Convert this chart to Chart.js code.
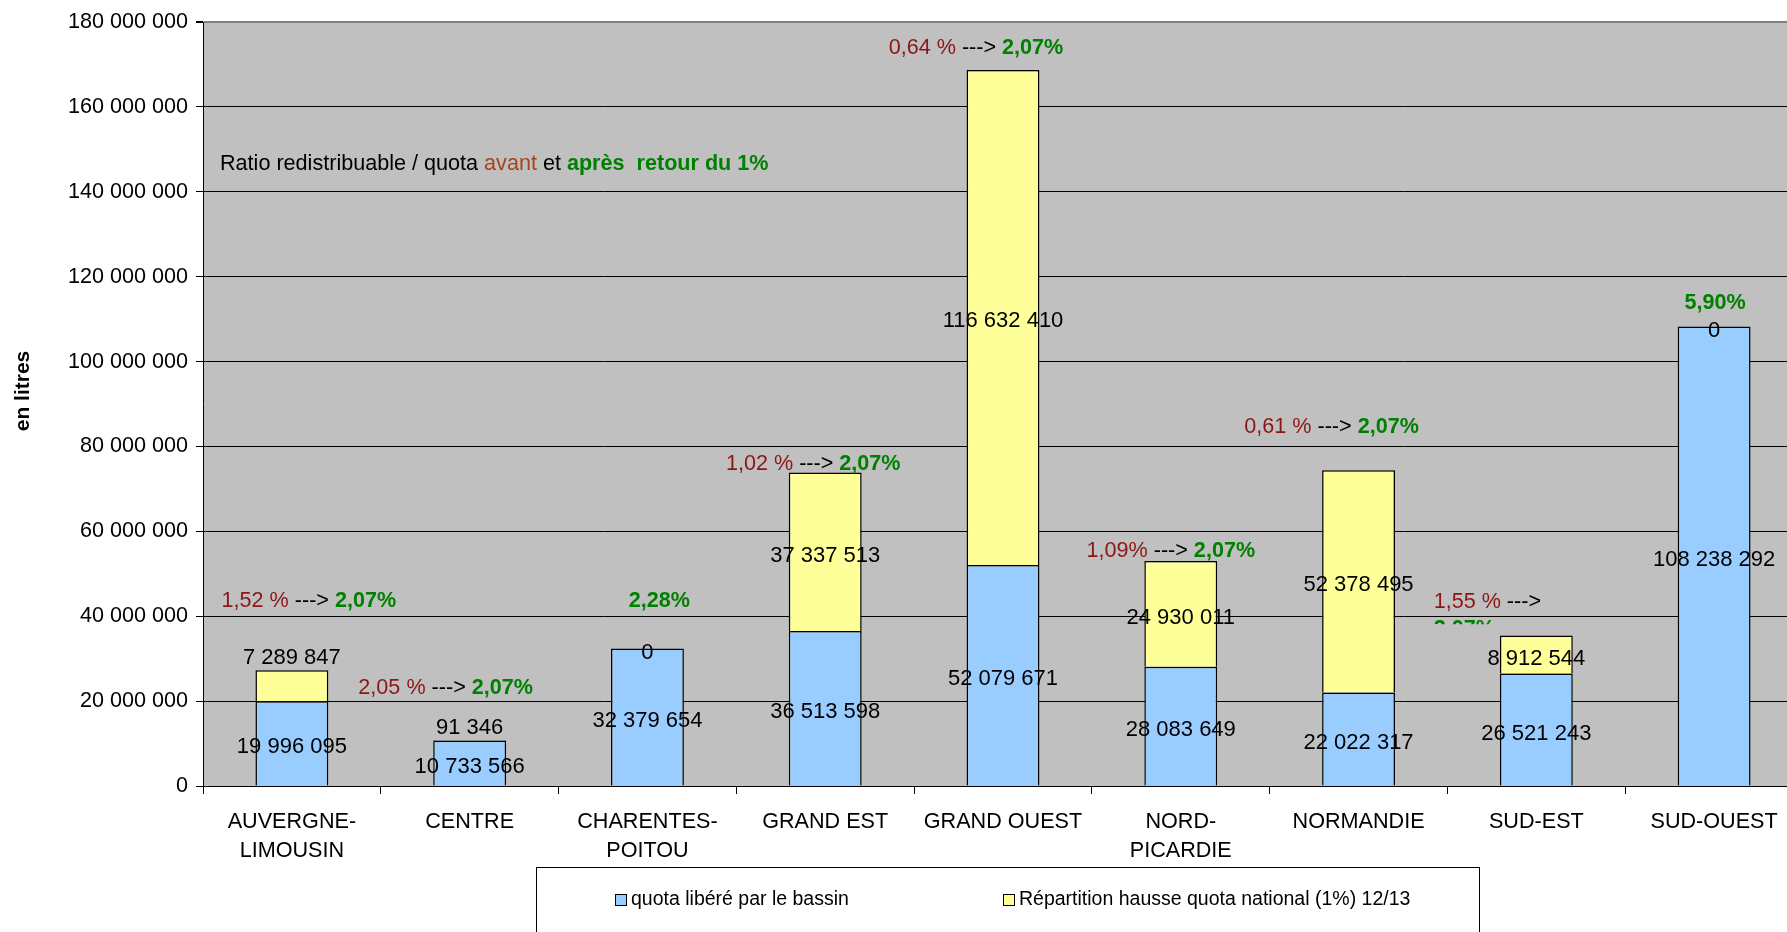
<!DOCTYPE html>
<html lang="fr">
<head>
<meta charset="utf-8">
<title>Quota libéré par bassin</title>
<script src="https://cdn.jsdelivr.net/npm/chart.js@4.4.1/dist/chart.umd.min.js"></script>
<style>
    html, body { margin: 0; padding: 0; background: #fff; overflow: hidden; }
    #wrap { width: 1803px; height: 932px; }
    canvas { display: block; }
</style>
</head>
<body>
<div id="wrap"><canvas id="quotaChart" width="1803" height="932"></canvas></div>
<script>
// categories and series
const regions = [['AUVERGNE-', 'LIMOUSIN'], 'CENTRE', ['CHARENTES-', 'POITOU'], 'GRAND EST', 'GRAND OUEST', ['NORD-', 'PICARDIE'], 'NORMANDIE', 'SUD-EST', 'SUD-OUEST'];
const quotaLibere = [19996095, 10733566, 32379654, 36513598, 52079671, 28083649, 22022317, 26521243, 108238292];
const hausseNationale = [7289847, 91346, 0, 37337513, 116632410, 24930011, 52378495, 8912544, 0];

// ratio redistribuable / quota, avant et après retour du 1%
const ratioAvant = ['1,52 %', '2,05 %', null, '1,02 %', '0,64 %', '1,09%', '0,61 %', '1,55 %', null];
const ratioApres = ['2,07%', '2,07%', '2,28%', '2,07%', '2,07%', '2,07%', '2,07%', '2,07%', '5,90%'];

const seriesNames = ['quota libéré par le bassin', 'Répartition hausse quota national (1%) 12/13'];

// where the ratio text boxes sit (offset from category centre, height in litres)
const ratioBoxes = [
    { dx: 17, at: 43.9e6 },
    { dx: -24, at: 23.3e6 },
    { dx: 12, at: 43.9e6 },
    { dx: -12, at: 76.1e6 },
    { dx: -27, at: 174.2e6 },
    { dx: -10, at: 55.6e6 },
    { dx: -27, at: 84.9e6 },
    { dx: -49, at: 43.5e6, wrapped: true },
    { dx: 1, at: 114.1e6 }
];

const FONT = '"Liberation Sans", Arial, sans-serif';
const RED = '#8C1616';
const GREEN = '#008000';
const BLUE = '#99CCFF';
const YELLOW = '#FFFF99';

function fmt(v) {
    return String(v).replace(/\B(?=(\d{3})+(?!\d))/g, ' ');
}

function drawParts(ctx, parts, x, y, align) {
    let w = 0;
    parts.forEach(p => { ctx.font = p.font; w += ctx.measureText(p.text).width; });
    let cx = align === 'left' ? x : x - w / 2;
    parts.forEach(p => {
        ctx.font = p.font;
        ctx.fillStyle = p.color;
        ctx.fillText(p.text, cx, y);
        cx += ctx.measureText(p.text).width;
    });
    return align === 'left' ? x : x - w / 2;
}

const plotBackground = {
    id: 'plotBackground',
    beforeDraw(chart) {
        const a = chart.chartArea;
        chart.ctx.save();
        chart.ctx.fillStyle = '#C0C0C0';
        chart.ctx.fillRect(a.left, a.top, a.right - a.left, a.bottom - a.top);
        chart.ctx.restore();
    }
};

const barValues = {
    id: 'barValues',
    afterDatasetsDraw(chart) {
        const ctx = chart.ctx;
        ctx.save();
        ctx.font = '22px ' + FONT;
        ctx.fillStyle = '#000';
        ctx.textAlign = 'center';
        ctx.textBaseline = 'middle';
        chart.data.datasets.forEach((ds, di) => {
            chart.getDatasetMeta(di).data.forEach((bar, i) => {
                const v = ds.data[i];
                const top = Math.min(bar.y, bar.base);
                const bottom = Math.max(bar.y, bar.base);
                let y = (top + bottom) / 2 + 4;
                // small top segments get their label lifted above the bar
                if (di === 1 && v > 0 && bottom - top < 35) y = top - 12;
                ctx.fillText(fmt(v), bar.x, y);
            });
        });
        ctx.restore();
    }
};

const ratioNotes = {
    id: 'ratioNotes',
    afterDraw(chart) {
        const ctx = chart.ctx;
        const xs = chart.scales.x, ys = chart.scales.y;
        const normal = '21.6px ' + FONT;
        const bold = 'bold 21.6px ' + FONT;
        ctx.save();
        ctx.textAlign = 'left';
        ctx.textBaseline = 'middle';

        // heading text box
        const a = chart.chartArea;
        drawParts(ctx, [
            { text: 'Ratio redistribuable / quota ', font: normal, color: '#000' },
            { text: 'avant', font: normal, color: '#A8441C' },
            { text: ' et ', font: normal, color: '#000' },
            { text: 'après  retour du 1%', font: bold, color: GREEN }
        ], a.left + 17, a.top + 142, 'left');

        // axis title
        ctx.save();
        ctx.translate(23, (a.top + a.bottom) / 2 - 13);
        ctx.rotate(-Math.PI / 2);
        ctx.textAlign = 'center';
        ctx.font = 'bold 21px ' + FONT;
        ctx.fillStyle = '#000';
        ctx.fillText('en litres', 0, 0);
        ctx.restore();

        ratioBoxes.forEach((box, i) => {
            const x = xs.getPixelForValue(i) + box.dx;
            const y = ys.getPixelForValue(box.at) + 1;
            if (box.wrapped) {
                const left = drawParts(ctx, [
                    { text: ratioAvant[i] + ' ', font: normal, color: RED },
                    { text: '--->', font: normal, color: '#000' }
                ], x, y, 'center');
                // second line is cut by the text box edge
                ctx.save();
                ctx.beginPath();
                ctx.rect(left - 5, y, 200, 22);
                ctx.clip();
                drawParts(ctx, [{ text: ratioApres[i], font: bold, color: GREEN }], left, y + 27, 'left');
                ctx.restore();
                return;
            }
            const parts = [];
            if (ratioAvant[i]) {
                parts.push({ text: ratioAvant[i] + ' ', font: normal, color: RED });
                parts.push({ text: '---> ', font: normal, color: '#000' });
            }
            parts.push({ text: ratioApres[i], font: bold, color: GREEN });
            drawParts(ctx, parts, x, y, 'center');
        });
        ctx.restore();
    }
};

const boxedLegend = {
    id: 'boxedLegend',
    afterDraw(chart) {
        const ctx = chart.ctx;
        const top = chart.chartArea.bottom + 81;
        ctx.save();
        ctx.strokeStyle = '#000';
        ctx.lineWidth = 1;
        ctx.strokeRect(536.5, top + 0.5, 943, 90);
        ctx.font = '19.5px ' + FONT;
        ctx.textAlign = 'left';
        ctx.textBaseline = 'middle';
        const items = [{ x: 615, color: BLUE }, { x: 1003, color: YELLOW }];
        items.forEach((it, i) => {
            ctx.fillStyle = it.color;
            ctx.fillRect(it.x + 0.5, top + 27.5, 11, 11);
            ctx.strokeRect(it.x + 0.5, top + 27.5, 11, 11);
            ctx.fillStyle = '#000';
            ctx.fillText(chart.data.datasets[i].label, it.x + 16, top + 33);
        });
        ctx.restore();
    }
};

const ctxQuota = document.getElementById('quotaChart').getContext('2d');

const quotaChart = new Chart(ctxQuota, {
    type: 'bar',
    data: {
        labels: regions,
        datasets: [{
            label: seriesNames[0],
            data: quotaLibere,
            backgroundColor: BLUE,
            borderColor: '#000',
            borderWidth: 1.5
        }, {
            label: seriesNames[1],
            data: hausseNationale,
            backgroundColor: YELLOW,
            borderColor: '#000',
            borderWidth: 1.5
        }]
    },
    options: {
        responsive: false,
        animation: false,
        layout: {
            padding: { top: 22, left: 0, right: 0, bottom: 0 }
        },
        datasets: {
            bar: {
                barPercentage: 0.41,
                categoryPercentage: 1
            }
        },
        plugins: {
            legend: { display: false },
            tooltip: { enabled: false }
        },
        scales: {
            x: {
                stacked: true,
                afterFit(scale) { scale.height = 146; },
                ticks: {
                    color: '#000',
                    padding: 14,
                    maxRotation: 0,
                    autoSkip: false,
                    font: { family: FONT, size: 21.6, lineHeight: 1.34 }
                },
                grid: {
                    drawOnChartArea: false,
                    tickLength: 8,
                    tickColor: '#000',
                    offset: true
                },
                border: { color: '#000', width: 1 }
            },
            y: {
                stacked: true,
                min: 0,
                max: 180000000,
                afterFit(scale) { scale.width = 203; },
                ticks: {
                    stepSize: 20000000,
                    color: '#000',
                    padding: 8,
                    font: { family: FONT, size: 21.6 },
                    callback: v => fmt(v)
                },
                grid: {
                    color: c => c.tick && c.tick.value === 180000000 ? '#808080' : '#000',
                    lineWidth: c => c.tick && c.tick.value === 180000000 ? 2 : 1,
                    tickLength: 7,
                    tickColor: '#000'
                },
                border: { color: '#000', width: 1 }
            }
        }
    },
    plugins: [plotBackground, barValues, ratioNotes, boxedLegend]
});
</script>
</body>
</html>
